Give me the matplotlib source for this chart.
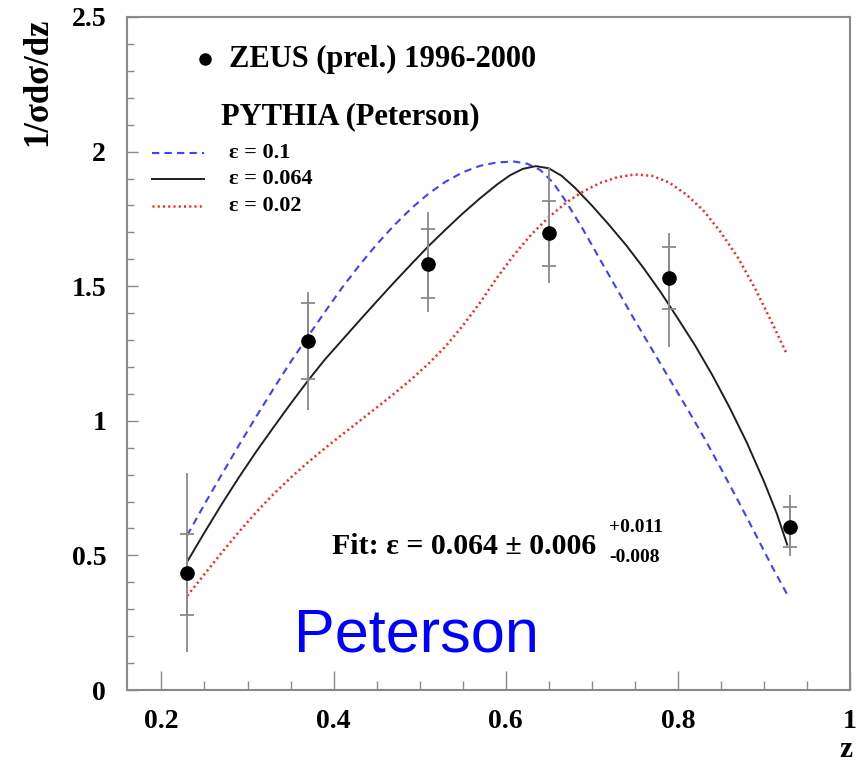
import numpy as np
import matplotlib.pyplot as plt
from matplotlib.ticker import MultipleLocator

# ---- ZEUS data points ----
z_pts = [0.23, 0.37, 0.51, 0.65, 0.79, 0.93]
y_pts = [0.435, 1.297, 1.584, 1.697, 1.531, 0.607]
stat_up = [0.145, 0.139, 0.130, 0.118, 0.113, 0.074]
stat_dn = [0.156, 0.142, 0.129, 0.122, 0.115, 0.077]
tot_up = [0.372, 0.180, 0.193, 0.243, 0.165, 0.118]
tot_dn = [0.294, 0.256, 0.179, 0.185, 0.255, 0.111]

# ---- PYTHIA (Peterson) curves ----
z_e01 = [0.23, 0.25, 0.27, 0.29, 0.31, 0.33, 0.35, 0.37, 0.39, 0.41,
         0.43, 0.45, 0.47, 0.49, 0.51, 0.53, 0.55, 0.57, 0.59, 0.61,
         0.625, 0.64, 0.655, 0.67, 0.69, 0.71, 0.73, 0.75, 0.77, 0.79,
         0.81, 0.83, 0.85, 0.87, 0.89, 0.91, 0.927]
y_e01 = [0.575, 0.69, 0.80, 0.909, 1.015, 1.118, 1.218, 1.312, 1.405, 1.495,
         1.578, 1.655, 1.725, 1.788, 1.843, 1.888, 1.923, 1.947, 1.96, 1.963,
         1.955, 1.932, 1.885, 1.815, 1.71, 1.597, 1.485, 1.373, 1.265, 1.157,
         1.05, 0.94, 0.823, 0.703, 0.58, 0.455, 0.355]

z_e064 = [0.23, 0.25, 0.27, 0.29, 0.31, 0.33, 0.35, 0.37, 0.39, 0.41,
          0.43, 0.45, 0.47, 0.49, 0.51, 0.53, 0.55, 0.57, 0.59, 0.605,
          0.62, 0.635, 0.65, 0.665, 0.68, 0.70, 0.72, 0.74, 0.76, 0.78,
          0.80, 0.82, 0.84, 0.86, 0.88, 0.90, 0.915, 0.927]
y_e064 = [0.477, 0.585, 0.69, 0.79, 0.885, 0.975, 1.063, 1.148, 1.228, 1.30,
          1.372, 1.443, 1.513, 1.581, 1.648, 1.71, 1.77, 1.826, 1.878, 1.912,
          1.936, 1.946, 1.938, 1.91, 1.867, 1.80, 1.728, 1.652, 1.568, 1.478,
          1.38, 1.28, 1.17, 1.05, 0.92, 0.775, 0.655, 0.54]

z_e002 = [0.23, 0.25, 0.27, 0.29, 0.31, 0.33, 0.35, 0.37, 0.39, 0.41,
          0.43, 0.45, 0.47, 0.49, 0.51, 0.53, 0.55, 0.57, 0.59, 0.61,
          0.63, 0.65, 0.67, 0.69, 0.71, 0.73, 0.75, 0.77, 0.79, 0.81,
          0.83, 0.85, 0.87, 0.89, 0.91, 0.927]
y_e002 = [0.35, 0.43, 0.51, 0.587, 0.66, 0.727, 0.788, 0.845, 0.898, 0.949,
          0.999, 1.049, 1.100, 1.153, 1.211, 1.276, 1.353, 1.438, 1.532, 1.618,
          1.693, 1.756, 1.81, 1.852, 1.884, 1.905, 1.915, 1.91, 1.885, 1.84,
          1.78, 1.70, 1.605, 1.49, 1.36, 1.245]

W, H = 862, 765
fig = plt.figure(figsize=(W / 100, H / 100), dpi=100)
ax = fig.add_axes([127 / W, 1 - 690 / H, 723 / W, 673 / H])


def px(x, y):
    # pixel position (from top-left) -> figure fraction
    return x / W, 1 - y / H


serif = "Liberation Serif"
grey = "#8a8a8a"
st_blue = dict(color="#4040ff", lw=1.5, ls=(0, (3.5, 2.5)))
st_black = dict(color="#202020", lw=1.4)
st_red = dict(color="#ff2020", lw=1.8, ls=(0, (0.8, 1.3)))

# curves
ax.plot(z_e01, y_e01, **st_blue)
ax.plot(z_e064, y_e064, **st_black)
ax.plot(z_e002, y_e002, **st_red)

# total (outer) and statistical (inner, with caps) error bars
ax.errorbar(z_pts, y_pts, yerr=[tot_dn, tot_up], fmt="none",
            ecolor=grey, elinewidth=1.3, capsize=0)
ax.errorbar(z_pts, y_pts, yerr=[stat_dn, stat_up], fmt="none",
            ecolor=grey, elinewidth=1.3, capsize=5, capthick=1.3)
ax.plot(z_pts, y_pts, "o", color="black", ms=9.5, zorder=5)

ax.set_xlim(0.16, 1.0)
ax.set_ylim(0, 2.5)
ax.xaxis.set_minor_locator(MultipleLocator(0.05))
ax.yaxis.set_minor_locator(MultipleLocator(0.1))
ax.set_xticks([0.2, 0.4, 0.6, 0.8, 1.0])
ax.set_xticklabels(["0.2", "0.4", "0.6", "0.8", "1"])
ax.set_yticks([0, 0.5, 1, 1.5, 2, 2.5])
ax.set_yticklabels(["0", "0.5", "1", "1.5", "2", "2.5"])

for s in ax.spines.values():
    s.set_color(grey)
    s.set_linewidth(1.5)
ax.tick_params(axis="x", which="major", direction="in", length=14,
               width=1, color=grey, pad=14)
ax.tick_params(axis="x", which="minor", direction="in", length=6.5,
               width=1, color=grey)
ax.tick_params(axis="y", which="major", direction="in", length=8,
               width=1, color=grey, pad=15)
ax.tick_params(axis="y", which="minor", direction="in", length=5,
               width=1, color=grey)
for lab in ax.get_xticklabels() + ax.get_yticklabels():
    lab.set_fontfamily(serif)
    lab.set_fontweight("bold")
    lab.set_fontsize(20)

# axis titles
fig.text(*px(38, 18), "1/σdσ/dz", rotation=90, ha="center", va="top",
         family=serif, weight="bold", fontsize=25)
fig.text(*px(846, 757), "z", ha="center", va="baseline",
         family=serif, weight="bold", fontsize=21)

# legend block
fig.lines.append(plt.Line2D([px(205, 0)[0]], [px(0, 59)[1]], marker="o",
                            color="black", ms=8, transform=fig.transFigure))
fig.text(*px(229, 59), "ZEUS (prel.) 1996-2000", ha="left", va="center",
         family=serif, weight="bold", fontsize=22)
fig.text(*px(221, 117), "PYTHIA (Peterson)", ha="left", va="center",
         family=serif, weight="bold", fontsize=22)

leg_rows = [(153, "ε = 0.1", st_blue),
            (179, "ε = 0.064", st_black),
            (206, "ε = 0.02", st_red)]
for yy, txt, style in leg_rows:
    x0, y0 = px(152, yy)
    x1, _ = px(204, yy)
    fig.lines.append(plt.Line2D([x0, x1], [y0, y0], transform=fig.transFigure,
                                **style))
    fig.text(*px(229, yy), txt, ha="left", va="center",
             family=serif, weight="bold", fontsize=16)

# fit result
fig.text(*px(332, 554), "Fit: ε = 0.064 ± 0.006", ha="left", va="baseline",
         family=serif, weight="bold", fontsize=21.5)
fig.text(*px(609, 528), "+0.011", ha="left", va="center",
         family=serif, weight="bold", fontsize=14)
fig.text(*px(609, 558), "-0.008", ha="left", va="center",
         family=serif, weight="bold", fontsize=14)

fig.text(*px(294, 652), "Peterson", ha="left", va="baseline",
         family="Liberation Sans", color="#0000ff", fontsize=44)

fig.savefig("out.png", dpi=100)
